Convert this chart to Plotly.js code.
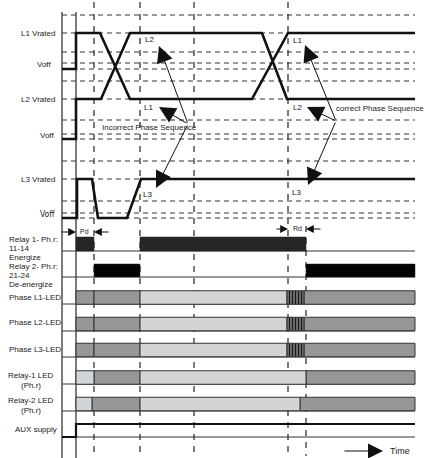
<!DOCTYPE html>
<html><head><meta charset="utf-8">
<script src="https://cdn.plot.ly/plotly-3.0.1.min.js"></script>
<style>html,body{margin:0;padding:0;background:#fff}</style>
</head><body><div id="chart" style="width:425px;height:458px"></div>
<script>
// ================= DATA (time along the x axis, diagram units) =================
const levelKeys   = ['L1R','L1off','L2R','L2off','L3R','L3off'];
const levelLabels = ['L1 Vrated','Voff','L2 Vrated','Voff','L3 Vrated','Voff'];

// phase voltage waveforms: breakpoint times and levels
const waveAT = [62, 76, 76, 100, 130, 252, 288, 415];
const waveAL = ['L1off','L1off','L1R','L1R','L2R','L2R','L1R','L1R'];
const waveBT = [62, 76, 76, 101, 130, 262, 287, 415];
const waveBL = ['L2off','L2off','L2R','L2R','L1R','L1R','L2R','L2R'];
const waveCT = [62, 77, 77, 92, 98, 127, 141, 415];
const waveCL = ['L3off','L3off','L3R','L3R','L3off','L3off','L3R','L3R'];

// event times (dashed markers)
const eventTimes = [94, 140, 194, 288];
const relayTime  = 306;
const startTime = 62, onTime = 76, endTime = 415;

// relay contacts: energised intervals
const relay1On = [[76, 94], [140, 306]];
const relay2On = [[94, 140], [306, 415]];

// LED rows: [start, end, state]
const ledL1 = [[76,94,'on'],[94,140,'on'],[140,287,'off'],[287,304,'blink'],[304,415,'on']];
const ledL2 = [[76,94,'on'],[94,140,'on'],[140,287,'off'],[287,304,'blink'],[304,415,'on']];
const ledL3 = [[76,94,'on'],[94,140,'on'],[140,287,'off'],[287,304,'blink'],[304,415,'on']];
const ledR1 = [[76,94,'dim'],[94,140,'on'],[140,306,'off'],[306,415,'on']];
const ledR2 = [[76,92,'dim'],[92,140,'on'],[140,300,'off'],[300,415,'on']];

// AUX supply
const auxT = [62, 76, 76, 415];
const auxL = [0, 0, 1, 1];

// row labels
const relayLabels = ['Relay 1- Ph.r:','11-14','Energize','Relay 2- Ph.r:','21-24','De-energize'];
const ledLabels   = ['Phase L1-LED','Phase L2-LED','Phase L3-LED'];
const relayLedLabels = ['Relay-1 LED','(Ph.r)','Relay-2 LED','(Ph.r)'];

// ================= LAYOUT GEOMETRY =================
const levelY = {L1R:33, L1off:69, L2R:99, L2off:139, L3R:179, L3off:218};
const levelLabelPos = [[57,33],[53,64],[57,99],[56,135],[57,179],[57,214]];
const guideY = [15,33,52,63,69,81,99,120,134,139,161,179,201,213,218];
const relayRowY = [244, 270.5], relayRowH = [14, 13];
const ledRowY = [297.5, 324, 350, 377.5, 404], ledRowH = 13.5;
const baseLines = [251, 277, 304, 331, 357, 384, 411, 437];
const auxY = [437, 424];
const relayLabelY = [239,248,257,266,275,284];
const ledLabelY = [297,322,349];
const relayLedLabelY = [375,385,400,410];

const FONT = 'Liberation Sans, Arial, sans-serif';
const stateColor = {on:'#979797', off:'#d4d4d4', dim:'#cfd6da', blink:'#5e5e5e'};

const traces = [];
// waveforms
[[waveAT,waveAL],[waveBT,waveBL],[waveCT,waveCL]].forEach(([t,l]) => {
  traces.push({type:'scatter', mode:'lines', x:t, y:l.map(k=>levelY[k]),
    line:{color:'#111', width:2.6}, hoverinfo:'skip'});
});
// AUX supply
traces.push({type:'scatter', mode:'lines', x:auxT, y:auxL.map(v=>auxY[v]),
  line:{color:'#111', width:2.2}, hoverinfo:'skip'});

// relay bars
[[relay1On,'#262626'],[relay2On,'#030303']].forEach(([iv,col],i) => {
  traces.push({type:'bar', orientation:'h',
    y: iv.map(()=>relayRowY[i]), base: iv.map(d=>d[0]), x: iv.map(d=>d[1]-d[0]),
    width: iv.map(()=>relayRowH[i]),
    marker:{color:col, line:{color:'#222', width:0.5}}, hoverinfo:'skip'});
});
// LED bars grouped by state
const ledRows = [ledL1, ledL2, ledL3, ledR1, ledR2];
['on','off','dim','blink'].forEach(st => {
  const ys=[], bs=[], xs=[];
  ledRows.forEach((row,i)=>row.forEach(s=>{ if(s[2]===st){ ys.push(ledRowY[i]); bs.push(s[0]); xs.push(s[1]-s[0]); } }));
  if(!ys.length) return;
  const m = {color:stateColor[st], line:{color:'#333', width:1}};
  if(st==='blink') m.pattern = {shape:'|', fgcolor:'#1a1a1a', bgcolor:'#6a6a6a', size:3, solidity:0.35};
  traces.push({type:'bar', orientation:'h', y:ys, base:bs, x:xs, width:ys.map(()=>ledRowH), marker:m, hoverinfo:'skip'});
});

// shapes: guides (below traces)
const shapes = [];
guideY.forEach(y => shapes.push({type:'line', layer:'below', xref:'x', yref:'y', x0:startTime, x1:endTime, y0:y, y1:y,
  line:{color:'#333', width:1, dash:'5px,4px'}}));
eventTimes.forEach(t => shapes.push({type:'line', layer:'below', xref:'x', yref:'y', x0:t, x1:t, y0:2, y1:456,
  line:{color:'#333', width:1.3, dash:'6px,6px'}}));
shapes.push({type:'line', layer:'below', xref:'x', yref:'y', x0:relayTime, x1:relayTime, y0:226, y1:456,
  line:{color:'#333', width:1.3, dash:'6px,6px'}});
baseLines.forEach(y => shapes.push({type:'line', layer:'below', xref:'x', yref:'y', x0:startTime, x1:endTime, y0:y, y1:y,
  line:{color:'#333', width:1}}));
[startTime, onTime].forEach(t => shapes.push({type:'line', layer:'below', xref:'x', yref:'y', x0:t, x1:t, y0:12, y1:458,
  line:{color:'#444', width:1.4}}));

// annotations
const ann = [];
const txt = (text,x,y,opt={}) => ann.push(Object.assign({text, x, y, xref:'x', yref:'y', showarrow:false,
  font:{family:FONT, size:8, color:'#222'}}, opt));
levelLabels.forEach((s,i)=>{
  const o = {xanchor:'right'};
  if(i===5) o.font = {family:'DejaVu Sans Condensed, '+FONT, size:8.5, color:'#222'};
  txt(s, levelLabelPos[i][0], levelLabelPos[i][1], o);
});
relayLabels.forEach((s,i)=>txt(s, 7, relayLabelY[i], {xanchor:'left'}));
ledLabels.forEach((s,i)=>txt(s, 7, ledLabelY[i], {xanchor:'left'}));
relayLedLabels.forEach((s,i)=>txt(s, 31, relayLedLabelY[i], {xanchor:'center'}));
txt('AUX supply', 13, 429, {xanchor:'left'});

txt('L2', 149, 39); txt('L1', 148, 107); txt('L3', 147, 194);
txt('Incorrect Phase Sequence', 149, 127);
txt('L1', 297, 40); txt('L2', 297, 107); txt('L3', 296, 192);
txt('correct Phase Sequence', 380, 108);
txt('Pd', 84, 231, {font:{family:FONT, size:7, color:'#222'}});
txt('Rd', 297, 228, {font:{family:FONT, size:7, color:'#222'}});
txt('Time', 400, 451, {font:{family:FONT, size:9, color:'#222'}});

const arrow = (tx,ty,hx,hy,size,w) => ann.push({text:'', x:hx, y:hy, ax:tx, ay:ty, xref:'x', yref:'y', axref:'x', ayref:'y',
  showarrow:true, arrowhead:2, arrowsize:size, arrowwidth:w, arrowcolor:'#111'});
[[159,46],[159,107],[156,188]].forEach(h=>arrow(188,124,h[0],h[1],3.3,1));
[[305,45],[307,107],[308,185]].forEach(h=>arrow(336,121,h[0],h[1],3.3,1));
arrow(60,232,76,232,1.3,1.2); arrow(110,232,94,232,1.3,1.2);
arrow(275,229,288,229,1.3,1.2); arrow(322,229,306,229,1.3,1.2);
arrow(343,451,383,451,3,1);

const layout = {
  width:425, height:458, margin:{l:0,r:0,t:0,b:0},
  paper_bgcolor:'#fff', plot_bgcolor:'#fff', showlegend:false, barmode:'overlay',
  font:{family:FONT, size:8, color:'#222'},
  xaxis:{range:[0,425], visible:false, fixedrange:true},
  yaxis:{range:[458,0], visible:false, fixedrange:true},
  shapes, annotations:ann
};
Plotly.newPlot('chart', traces, layout, {staticPlot:true, displayModeBar:false});
</script></body></html>
